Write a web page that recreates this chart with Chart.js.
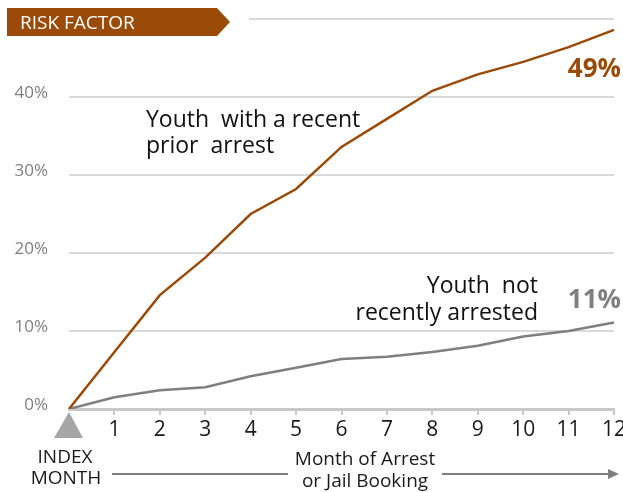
<!DOCTYPE html>
<html>
<head>
<meta charset="utf-8">
<script src="https://cdn.jsdelivr.net/npm/chart.js@4"></script>
<style>
  html, body { margin: 0; padding: 0; background: #fff; }
  #wrap { width: 623px; height: 492px; position: relative; }
</style>
</head>
<body>
<div id="wrap"><canvas id="risk"></canvas></div>
<script>
const months = ['0', '1', '2', '3', '4', '5', '6', '7', '8', '9', '10', '11', '12'];
const priorArrest = [0, 7.3, 14.6, 19.4, 25.0, 28.2, 33.6, 37.2, 40.8, 42.9, 44.5, 46.4, 48.6];
const notArrested = [0, 1.5, 2.4, 2.8, 4.2, 5.3, 6.4, 6.7, 7.3, 8.1, 9.3, 10.0, 11.1];
const yTicks = [0, 10, 20, 30, 40, 50];

const ORANGE = '#9b4a08';
const GREY = '#7f7f7f';
const FONT = "'Open Sans', 'Noto Sans', sans-serif";

const decorations = {
    id: 'decorations',
    afterDraw(chart) {
        const ctx = chart.ctx;
        const area = chart.chartArea;
        ctx.save();

        // hide left part of top gridline, then the banner
        ctx.fillStyle = '#fff';
        ctx.fillRect(area.left - 4, area.top - 4, 249 - area.left + 4, 8);
        ctx.fillStyle = ORANGE;
        ctx.beginPath();
        ctx.moveTo(7, 8);
        ctx.lineTo(217, 8);
        ctx.lineTo(230, 22);
        ctx.lineTo(217, 36);
        ctx.lineTo(7, 36);
        ctx.closePath();
        ctx.fill();
        ctx.fillStyle = '#fff';
        ctx.font = "19px " + FONT;
        ctx.textBaseline = 'alphabetic';
        ctx.textAlign = 'left';
        ctx.fillText('RISK FACTOR', 20, 29);

        // index month triangle
        const x0 = chart.scales.x.getPixelForValue(0);
        ctx.fillStyle = '#a6a6a6';
        ctx.beginPath();
        ctx.moveTo(x0, area.bottom + 3);
        ctx.lineTo(x0 + 14, area.bottom + 29);
        ctx.lineTo(x0 - 15, area.bottom + 29);
        ctx.closePath();
        ctx.fill();

        // bottom texts
        ctx.fillStyle = '#1a1a1a';
        ctx.font = "19px " + FONT;
        ctx.textAlign = 'center';
        ctx.fillText('INDEX', 65, 463);
        ctx.fillText('MONTH', 66, 484);
        ctx.fillText('Month of Arrest', 365, 465);
        ctx.fillText('or Jail Booking', 365, 487);

        ctx.strokeStyle = GREY;
        ctx.lineWidth = 2;
        ctx.beginPath();
        ctx.moveTo(112, 474);
        ctx.lineTo(288, 474);
        ctx.moveTo(442, 474);
        ctx.lineTo(610, 474);
        ctx.stroke();
        ctx.fillStyle = GREY;
        ctx.beginPath();
        ctx.moveTo(619, 474);
        ctx.lineTo(608, 469);
        ctx.lineTo(608, 479);
        ctx.closePath();
        ctx.fill();

        // series annotations
        ctx.fillStyle = '#111';
        ctx.font = "23px " + FONT;
        ctx.textAlign = 'left';
        ctx.fillText('Youth  with a recent', 146, 127);
        ctx.fillText('prior  arrest', 146, 153);
        ctx.textAlign = 'right';
        ctx.fillText('Youth  not', 538, 293);
        ctx.fillText('recently arrested', 538, 320);

        ctx.font = "bold 26px " + FONT;
        ctx.fillStyle = ORANGE;
        ctx.fillText('49%', 621, 77);
        ctx.fillStyle = GREY;
        ctx.fillText('11%', 621, 308);

        ctx.restore();
    }
};

new Chart(document.getElementById('risk').getContext('2d'), {
    type: 'line',
    data: {
        labels: months,
        datasets: [
            {
                label: 'Youth with a recent prior arrest',
                data: priorArrest,
                borderColor: ORANGE,
                borderWidth: 2.5,
                pointRadius: 0,
                tension: 0
            },
            {
                label: 'Youth not recently arrested',
                data: notArrested,
                borderColor: GREY,
                borderWidth: 2.5,
                pointRadius: 0,
                tension: 0
            }
        ]
    },
    options: {
        responsive: true,
        maintainAspectRatio: false,
        animation: false,
        layout: { padding: { top: 19, right: 9, left: 0, bottom: 0 } },
        plugins: {
            legend: { display: false },
            tooltip: { enabled: false }
        },
        scales: {
            x: {
                offset: false,
                border: { color: '#c8c8c8', width: 3 },
                grid: {
                    drawOnChartArea: false,
                    drawTicks: true,
                    tickLength: 6,
                    lineWidth: 2,
                    color: c => c.index === 0 ? 'rgba(0,0,0,0)' : '#c8c8c8'
                },
                ticks: {
                    color: '#1a1a1a',
                    font: { family: FONT, size: 21 },
                    padding: 2,
                    maxRotation: 0,
                    autoSkip: false,
                    callback: (v, i) => i === 0 ? '' : months[i]
                },
                afterFit: s => { s.height = 83; s.paddingLeft = 0; s.paddingRight = 0; }
            },
            y: {
                min: 0,
                max: 50,
                afterBuildTicks: s => { s.ticks = yTicks.map(v => ({ value: v })); },
                border: { display: false },
                grid: { color: '#d9d9d9', lineWidth: 2, drawTicks: false },
                ticks: {
                    color: GREY,
                    font: { family: FONT, size: 17 },
                    padding: 21,
                    labelOffset: -4,
                    callback: v => v === 50 ? '' : v + '%'
                },
                afterFit: s => { s.width = 69; s.paddingTop = 0; s.paddingBottom = 0; }
            }
        }
    },
    plugins: [decorations]
});
</script>
</body>
</html>
